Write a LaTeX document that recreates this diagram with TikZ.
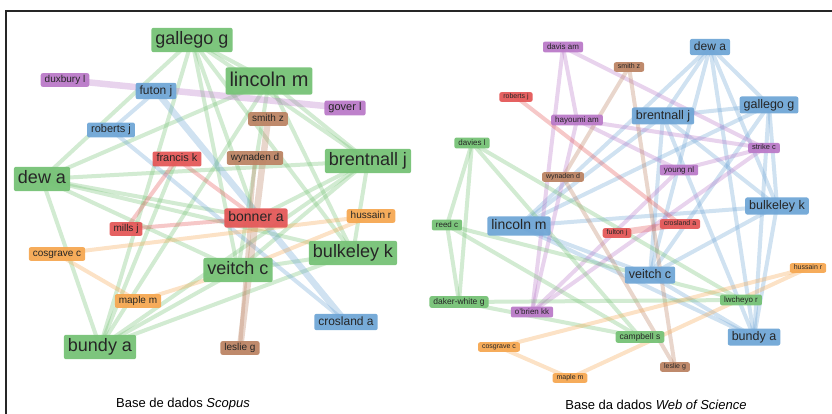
\documentclass[tikz,border=0pt]{standalone}
\usepackage{fontspec}
\setmainfont{Liberation Sans}
\usetikzlibrary{backgrounds}
\definecolor{cgreen}{RGB}{118,194,118}
\definecolor{cblue}{RGB}{112,166,214}
\definecolor{cred}{RGB}{228,88,88}
\definecolor{cpurple}{RGB}{186,122,200}
\definecolor{cbrown}{RGB}{188,132,100}
\definecolor{corange}{RGB}{246,168,82}
\newcommand\afs[1]{\fontsize{#1}{#1}\selectfont}
\tikzset{
  au/.style={rounded corners=2pt, inner xsep=4pt, text=black!85, fill opacity=0.95, text opacity=1},
  fz/.style={font=\afs{#1}, text height=0.74*#1pt, text depth=0.22*#1pt, inner ysep=0.2*#1pt},
  gn/.style={au, fill=cgreen},
  bl/.style={au, fill=cblue},
  rd/.style={au, fill=cred},
  pu/.style={au, fill=cpurple},
  br/.style={au, fill=cbrown},
  og/.style={au, fill=corange},
  ed/.style={line width=4pt, draw opacity=0.33, line cap=round},
  thick edge/.style={line width=6.5pt},
  eg/.style={ed, draw=cgreen},
  eb/.style={ed, draw=cblue},
  er/.style={ed, draw=cred},
  ep/.style={ed, draw=cpurple},
  ebr/.style={ed, draw=cbrown},
  eo/.style={ed, draw=corange},
}
\begin{document}
\begin{tikzpicture}[x=1pt,y=-1pt]
\useasboundingbox (0,0) rectangle (832,414);
\draw[line width=1.4pt, black!85] (6,414) -- (6,11) -- (832,11);

% ---------- left network (Scopus) ----------
\node[gn, fz=18] (Lgal) at (192,40) {gallego g};
\node[pu, fz=10] (Ldux) at (65,80) {duxbury l};
\node[bl, fz=12] (Lfut) at (156,91) {futon j};
\node[gn, fz=20] (Llin) at (269,81) {lincoln m};
\node[pu, fz=11] (Lgov) at (345,108) {gover l};
\node[br, fz=10] (Lsmi) at (268,119) {smith z};
\node[bl, fz=11] (Lrob) at (111,130) {roberts j};
\node[rd, fz=11] (Lfra) at (177,159) {francis k};
\node[br, fz=10] (Lwyn) at (255,158) {wynaden d};
\node[gn, fz=18] (Lbre) at (368,161) {brentnall j};
\node[gn, fz=18] (Ldew) at (42,179) {dew a};
\node[rd, fz=14] (Lbon) at (256,218) {bonner a};
\node[og, fz=10] (Lhus) at (371,216) {hussain r};
\node[rd, fz=10] (Lmil) at (126,229) {mills j};
\node[og, fz=10] (Lcos) at (57,254) {cosgrave c};
\node[gn, fz=18] (Lbul) at (353,253) {bulkeley k};
\node[gn, fz=18] (Lvei) at (238,270) {veitch c};
\node[og, fz=10] (Lmap) at (138,301) {maple m};
\node[bl, fz=12] (Lcro) at (346,322) {crosland a};
\node[gn, fz=18] (Lbun) at (100,347) {bundy a};
\node[br, fz=10] (Lles) at (240,348) {leslie g};
\node[font=\afs{13}] (capL) at (183,404) {Base de dados \textit{Scopus}};

% ---------- right network (Web of Science) ----------
\node[pu, fz=8] (Rdav) at (563,47) {davis am};
\node[br, fz=7] (Rsmi) at (629,67) {smith z};
\node[bl, fz=12] (Rdew) at (710,47) {dew a};
\node[rd, fz=7] (Rrob) at (516,97) {roberts j};
\node[pu, fz=8] (Rhay) at (577,120) {hayoumi am};
\node[bl, fz=12.5] (Rbre) at (663,116) {brentnall j};
\node[bl, fz=12.5] (Rgal) at (769,105) {gallego g};
\node[gn, fz=8] (Rdvs) at (472,143) {davies l};
\node[pu, fz=7.5] (Rstr) at (764,148) {strike c};
\node[pu, fz=8] (Ryou) at (679,170) {young nl};
\node[br, fz=7] (Rwyn) at (563,177) {wynaden d};
\node[bl, fz=12.5] (Rbul) at (777,206) {bulkeley k};
\node[gn, fz=8] (Rree) at (447,225) {reed c};
\node[bl, fz=14] (Rlin) at (519,226) {lincoln m};
\node[rd, fz=7] (Rcro) at (680,224) {crosland a};
\node[rd, fz=7] (Rful) at (617,233) {fulton j};
\node[og, fz=7] (Rhus) at (808,268) {hussain r};
\node[bl, fz=12.5] (Rvei) at (650,275) {veitch c};
\node[gn, fz=8.5] (Rdak) at (459,302) {daker-white g};
\node[gn, fz=8] (Rlwc) at (741,300) {lwcheyo r};
\node[pu, fz=8] (Robr) at (532,312) {o'brien kk};
\node[gn, fz=8.5] (Rcam) at (640,337) {campbell s};
\node[bl, fz=12.5] (Rbun) at (754,337) {bundy a};
\node[og, fz=7] (Rcos) at (499,347) {cosgrave c};
\node[br, fz=7] (Rles) at (675,367) {leslie g};
\node[og, fz=7] (Rmap) at (570,378) {maple m};
\node[font=\afs{13}] (capR) at (656,405) {Base da dados \textit{Web of Science}};

\begin{pgfonlayer}{background}
% left edges
\foreach \a/\b in {Lgal/Ldew, Lgal/Lbun, Lgal/Lvei, Lgal/Lbul, Lgal/Lbre, Lgal/Llin, Lgal/Lbon,
  Llin/Ldew, Llin/Lbun, Llin/Lbre, Llin/Lbul, Llin/Lvei,
  Ldew/Lbre, Ldew/Lbul, Ldew/Lvei, Ldew/Lbun, Ldew/Lbon,
  Lbre/Lbun, Lbre/Lvei, Lbre/Lbul, Lbre/Lbon,
  Lbul/Lbun, Lbul/Lvei, Lvei/Lbun, Lbun/Lfra}
  \draw[eg] (\a.center) -- (\b.center);
\draw[eb] (Lfut.center) -- (Lrob.center);
\draw[eb, thick edge] (Lfut.center) -- (Lcro.center);
\draw[eb] (Lrob.center) -- (Lcro.center);
\draw[ep, thick edge] (Ldux.center) -- (Lgov.center);
\draw[ebr, thick edge] (Lsmi.center) -- (Lles.center);
\draw[ebr] (Lwyn.center) -- (Lles.center);
\foreach \a/\b in {Lfra/Lbon, Lmil/Lbon, Lfra/Lmil}
  \draw[er] (\a.center) -- (\b.center);
\foreach \a/\b in {Lcos/Lhus, Lcos/Lmap, Lmap/Lvei, Lhus/Lvei}
  \draw[eo] (\a.center) -- (\b.center);
% right edges
\foreach \a/\b in {Rdew/Rbre, Rdew/Rgal, Rdew/Rbul, Rdew/Rbun, Rdew/Rlin, Rdew/Rvei,
  Rgal/Rbre, Rgal/Rlin, Rgal/Rbul, Rgal/Rbun, Rgal/Rvei,
  Rbre/Rlin, Rbre/Rvei, Rbre/Rbul, Rbre/Rbun,
  Rlin/Rbul, Rlin/Rvei, Rlin/Rbun, Rbul/Rbun, Rbul/Rvei, Rvei/Rbun}
  \draw[eb] (\a.center) -- (\b.center);
\foreach \a/\b in {Rdav/Rhay, Rdav/Robr, Rdav/Rstr, Rhay/Rstr, Rhay/Ryou, Rhay/Robr,
  Ryou/Robr, Ryou/Rstr, Rstr/Robr}
  \draw[ep] (\a.center) -- (\b.center);
\foreach \a/\b in {Rsmi/Rwyn, Rsmi/Rles, Rwyn/Rles}
  \draw[ebr] (\a.center) -- (\b.center);
\draw[er] (Rrob.center) -- (Rcro.center);
\draw[er, thick edge] (Rful.center) -- (Rcro.center);
\foreach \a/\b in {Rdvs/Rree, Rdvs/Rdak, Rdvs/Rlwc, Rdvs/Rcam, Rree/Rdak, Rree/Rcam,
  Rree/Rlwc, Rdak/Rlwc, Rdak/Rcam}
  \draw[eg] (\a.center) -- (\b.center);
\foreach \a/\b in {Rcos/Rhus, Rcos/Rmap, Rmap/Rhus}
  \draw[eo] (\a.center) -- (\b.center);
\end{pgfonlayer}
\end{tikzpicture}
\end{document}
